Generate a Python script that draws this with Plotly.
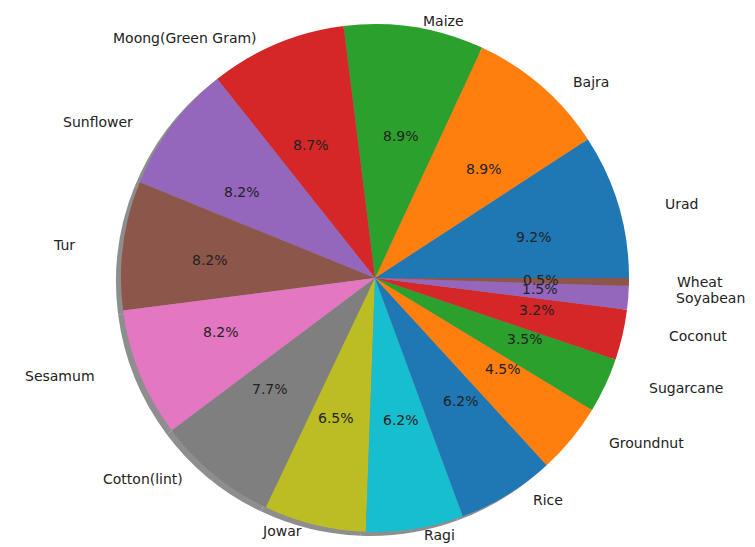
import math
import plotly.graph_objects as go

# ---- data ----
crops = ["Urad", "Bajra", "Maize", "Moong(Green Gram)", "Sunflower", "Tur",
         "Sesamum", "Cotton(lint)", "Jowar", "Ragi", "Rice", "Groundnut",
         "Sugarcane", "Coconut", "Soyabean", "Wheat"]
shares = [9.2, 8.9, 8.9, 8.7, 8.2, 8.2, 8.2, 7.7, 6.5, 6.2, 6.2, 4.5,
          3.5, 3.2, 1.5, 0.5]
tab10 = ["#1f77b4", "#ff7f0e", "#2ca02c", "#d62728", "#9467bd",
         "#8c564b", "#e377c2", "#7f7f7f", "#bcbd22", "#17becf"]
colors = [tab10[i % 10] for i in range(len(crops))]

# ---- layout / geometry (pixels of the screenshot) ----
W, H = 755, 547
PAGE_OFF = 8                   # default body margin of the html page
CX, CY, R = 375 - PAGE_OFF, 278 - PAGE_OFF, 254
LAB_RX, LAB_RY = 300, 260      # label ring
PCT_RX, PCT_RY = 166, 144      # percentage ring
SH_DX, SH_DY = -5, 4           # shadow offset
FONT = "DejaVu Sans"
TXT = "#222222"

total = sum(shares)
# matplotlib-style: start at 3 o'clock, go counter-clockwise
rotation = 90 - 360 * shares[0] / total


def dom(dx=0, dy=0):
    x0 = (CX + dx - R) / W
    x1 = (CX + dx + R) / W
    y0 = (H - (CY + dy) - R) / H
    y1 = (H - (CY + dy) + R) / H
    return dict(x=[x0, x1], y=[y0, y1])


fig = go.Figure()
# shadow
fig.add_trace(go.Pie(values=shares, labels=crops, sort=False,
                     direction="counterclockwise", rotation=rotation,
                     marker=dict(colors=["#8e8e8e"] * len(crops)),
                     textinfo="none", hoverinfo="skip", showlegend=False,
                     domain=dom(SH_DX, SH_DY)))
# main pie
fig.add_trace(go.Pie(values=shares, labels=crops, sort=False,
                     direction="counterclockwise", rotation=rotation,
                     marker=dict(colors=colors, line=dict(width=0)),
                     textinfo="none", showlegend=False,
                     domain=dom()))

annotations = []
cum = 0.0
for name, v in zip(crops, shares):
    mid = 2 * math.pi * (cum + v / 2) / total
    cum += v
    c, s = math.cos(mid), math.sin(mid)
    lx, ly = CX + LAB_RX * c, CY - LAB_RY * s
    annotations.append(dict(x=lx / W, y=1 - ly / H, xref="paper", yref="paper",
                            text=name, showarrow=False,
                            xanchor="left" if c > 0 else "right", yanchor="middle",
                            font=dict(family=FONT, size=14, color=TXT)))
    px, py = CX + PCT_RX * c, CY - PCT_RY * s
    annotations.append(dict(x=px / W, y=1 - py / H, xref="paper", yref="paper",
                            text=f"{100 * v / total:.1f}%", showarrow=False,
                            xanchor="center", yanchor="middle",
                            font=dict(family=FONT, size=14, color=TXT)))

fig.update_layout(width=W, height=H, margin=dict(l=0, r=0, t=0, b=0),
                  paper_bgcolor="white", plot_bgcolor="white",
                  annotations=annotations, showlegend=False)

fig.write_html("out.html")
